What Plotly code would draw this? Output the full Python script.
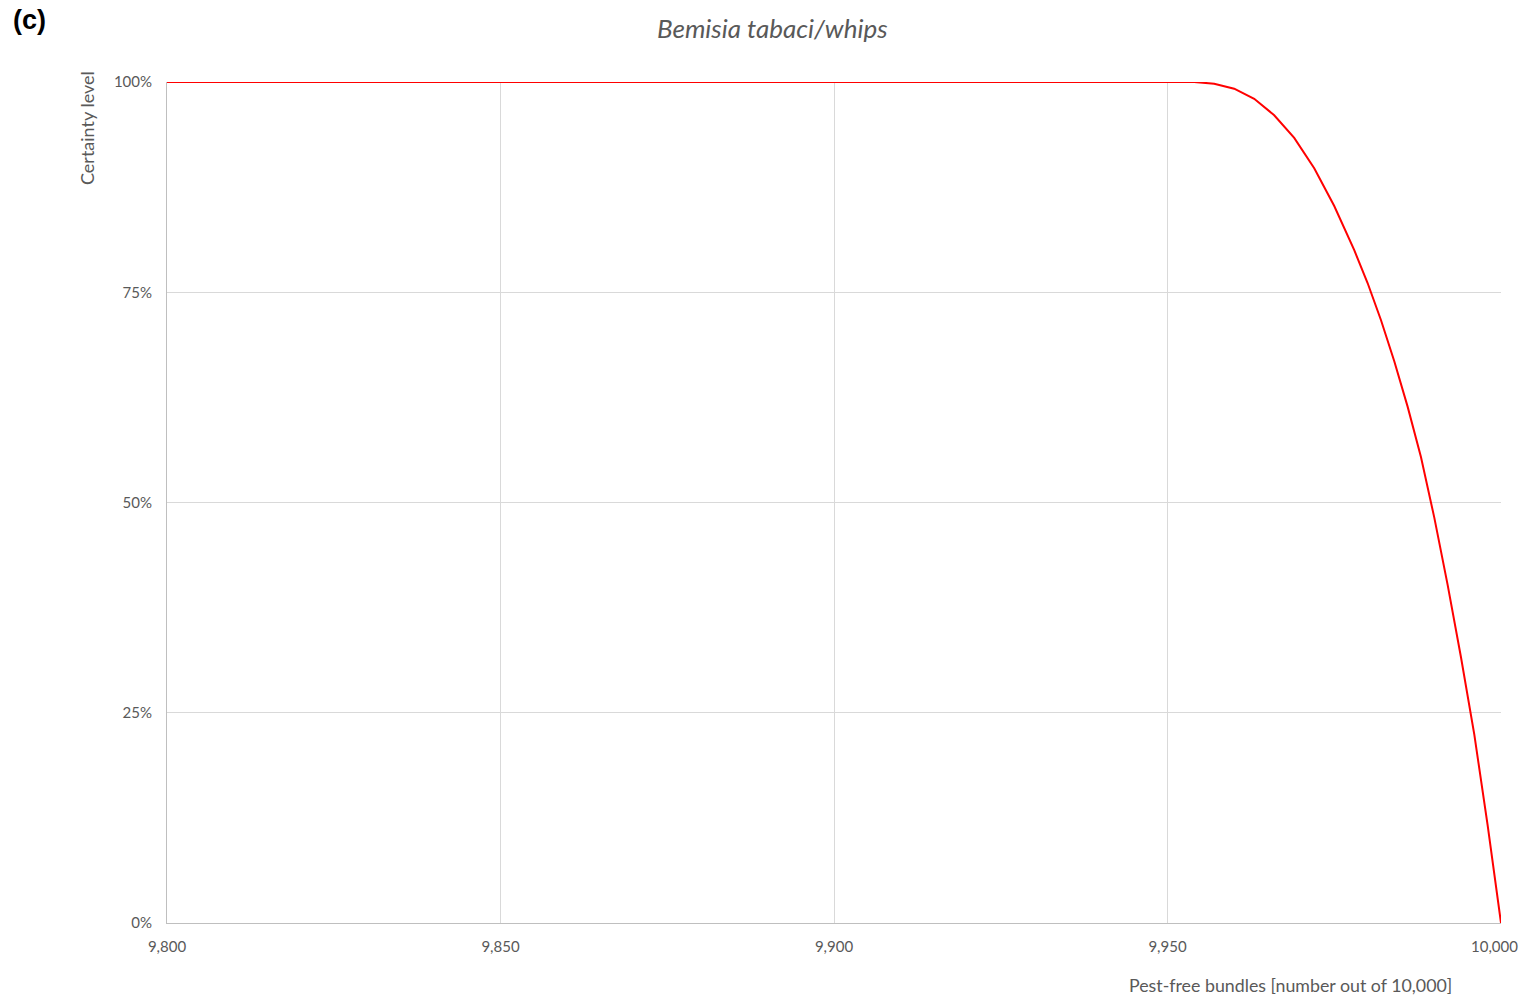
import plotly.graph_objects as go

# Data
pest_free = [9800, 9954, 9957, 9960, 9963, 9966, 9969, 9972, 9975, 9978, 9980,
             9982, 9984, 9986, 9988, 9990, 9992, 9994, 9996, 9998, 10000]
certainty = [100, 100, 99.8, 99.2, 98.0, 96.05, 93.35, 89.75, 85.25, 80.0, 76.1,
             71.7, 66.8, 61.4, 55.4, 48.2, 40.2, 31.6, 22.4, 11.6, 0]

x_ticks = [9800, 9850, 9900, 9950, 10000]
x_labels = ["9,800", "9,850", "9,900", "9,950", "10,000"]
y_ticks = [0, 25, 50, 75, 100]
y_labels = ["0%", "25%", "50%", "75%", "100%"]

font_main = "Lato, 'Open Sans', sans-serif"
gray = "#595959"

# the page renders the figure 1521 px wide (right 8 px reserved)
W, H = 1521, 998
L, R, T, B = 167, 20, 82, 75

fig = go.Figure()
fig.add_trace(go.Scatter(x=pest_free, y=certainty, mode="lines",
                         line=dict(color="#ff0000", width=2),
                         showlegend=False, hoverinfo="skip"))

pw = W - L - R
ph = H - T - B


def px(xs):
    return (xs - L) / pw


def py(ys):
    return (H - B - ys) / ph


# the last tick label would spill past the figure edge; draw it as an annotation
axis_ticktext = x_labels[:-1] + [""]

fig.update_layout(
    width=W, height=H, autosize=False,
    margin=dict(l=L, r=R, t=T, b=B),
    paper_bgcolor="white", plot_bgcolor="white",
    font=dict(family=font_main, color=gray, size=15),
    xaxis=dict(range=[9800, 10000], tickvals=x_ticks, ticktext=axis_ticktext, showgrid=True,
               gridcolor="#d9d9d9", gridwidth=1, zeroline=False, showline=True,
               linecolor="#bfbfbf", linewidth=1, ticks="outside", ticklen=10,
               tickcolor="rgba(0,0,0,0)", tickfont=dict(size=15, color=gray),
               fixedrange=True),
    yaxis=dict(range=[0, 100], tickvals=y_ticks, ticktext=y_labels, showgrid=True,
               gridcolor="#d9d9d9", gridwidth=1, zeroline=False, showline=True,
               linecolor="#bfbfbf", linewidth=1, ticks="outside", ticklen=11,
               tickcolor="rgba(0,0,0,0)", tickfont=dict(size=15, color=gray),
               fixedrange=True),
    annotations=[
        dict(text="<i>Bemisia tabaci/whips</i>", xref="paper", yref="paper",
             x=px(772), y=py(28), xanchor="center", yanchor="middle", showarrow=False,
             font=dict(size=26, color=gray, family=font_main)),
        dict(text="<b>(c)</b>", xref="paper", yref="paper", x=px(11), y=py(20),
             xanchor="left", yanchor="middle", showarrow=False,
             font=dict(family="Liberation Sans, Arial, sans-serif", size=27, color="black")),
        dict(text="Certainty level", xref="paper", yref="paper", x=px(87), y=py(69),
             xanchor="center", yanchor="top", textangle=-90, showarrow=False,
             font=dict(size=18, color=gray)),
        dict(text="Pest-free bundles [number out of 10,000]", xref="paper", yref="paper",
             x=px(1454), y=py(985), xanchor="right", yanchor="middle", showarrow=False,
             font=dict(size=17.8, color=gray)),
        dict(text=x_labels[-1], xref="x", yref="paper", x=x_ticks[-1], y=py(946),
             xanchor="right", yanchor="middle", xshift=19, showarrow=False,
             font=dict(size=15, color=gray)),
    ],
)

fig.write_html("out.html",
               config={"responsive": False, "displayModeBar": False, "staticPlot": True},
               post_script="document.body.style.margin='0';document.body.style.overflow='hidden';")
